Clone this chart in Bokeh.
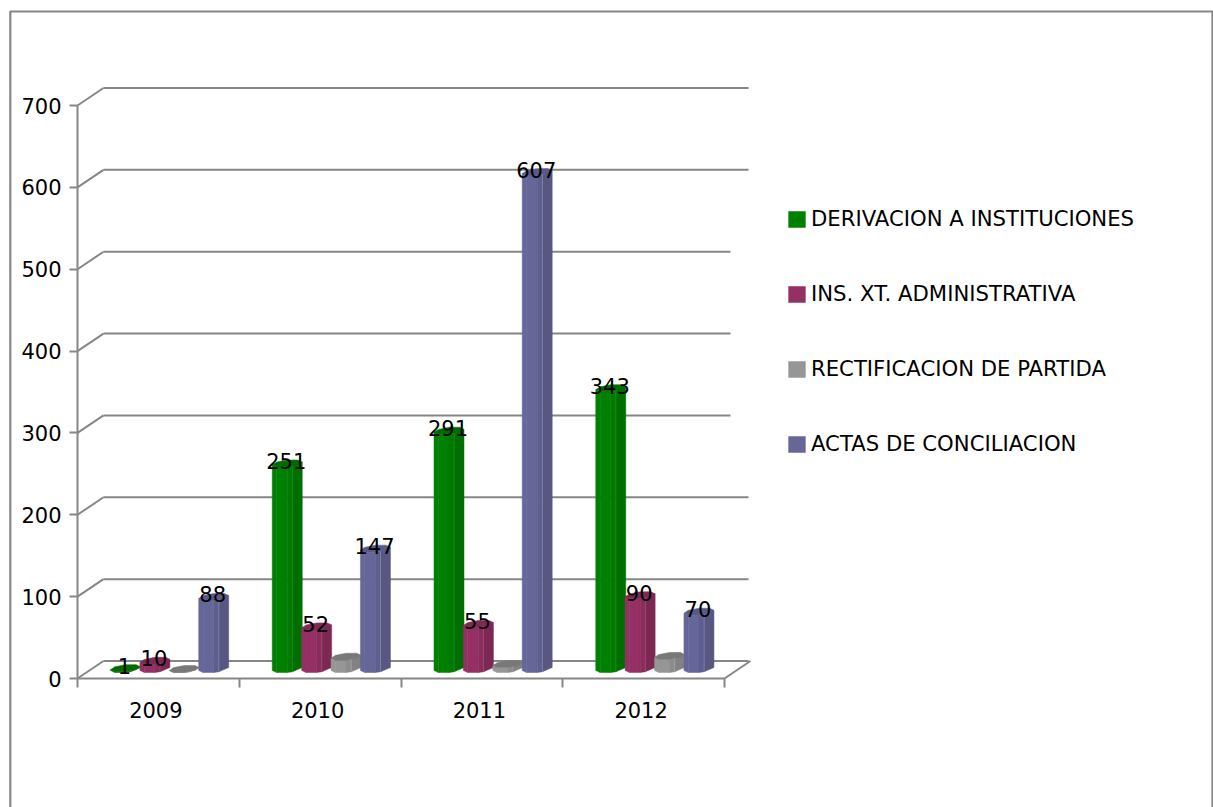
import math
from bokeh.plotting import figure
from bokeh.embed import file_html
from bokeh.resources import INLINE
from bokeh.models import Range1d, FixedTicker, Legend, LegendItem, BoxAnnotation
from bokeh.core.properties import value

# ---- data ----
years = ["2009", "2010", "2011", "2012"]
derivacion = [1, 251, 291, 343]
ins_xt = [10, 52, 55, 90]
rectificacion = [0, 15, 6, 16]
actas = [88, 147, 607, 70]
series_names = ["DERIVACION A INSTITUCIONES", "INS. XT. ADMINISTRATIVA",
                "RECTIFICACION DE PARTIDA", "ACTAS DE CONCILIACION"]
y_ticks = [0, 100, 200, 300, 400, 500, 600, 700]

# ---- style ----
series_values = [derivacion, ins_xt, rectificacion, actas]
show_labels = [True, True, False, True]
facet_colors = [
    ["#008000", "#008000", "#007a00", "#006f00"],
    ["#953064", "#953064", "#8a2c5c", "#7d2853"],
    ["#969696", "#969696", "#8c8c8c", "#828282"],
    ["#666699", "#666699", "#5e5e8f", "#575782"],
]
cap_colors = ["#006c00", "#7f2955", "#787878", "#5a5a88"]
edge_colors = ["#1c8f1c", "#a94f7d", "#a8a8a8", "#8a8ab0"]
AXIS = "#868686"
FONT = "DejaVu Sans"
NUM_SIZE = "21px"

W, H = 1213, 807
LEFT, BOTTOM = 77, 129
X_PX = 161.75
Y_PX = 0.81857
px_x = lambda v: v / X_PX
px_y = lambda v: v / Y_PX

p = figure(width=W, height=H, output_backend="svg", toolbar_location=None,
           x_range=Range1d(px_x(-LEFT), px_x(W - LEFT)),
           y_range=Range1d(px_y(-BOTTOM), px_y(H - BOTTOM)),
           min_border_left=0, min_border_right=0, min_border_top=0, min_border_bottom=0)
p.grid.visible = False
p.outline_line_color = None
p.background_fill_color = "white"
p.border_fill_color = "white"

# outer chart border
p.add_layout(BoxAnnotation(left=9.8, right=1212, top=11, bottom=840,
                           left_units="canvas", right_units="canvas",
                           top_units="canvas", bottom_units="canvas",
                           fill_alpha=0, line_color=AXIS, line_alpha=1, line_width=2.2))

# axes
ya = p.yaxis[0]
ya.fixed_location = 0
ya.ticker = FixedTicker(ticks=y_ticks)
ya.bounds = (0, 700)
ya.major_tick_out = 8
ya.major_tick_in = 0
ya.minor_tick_out = 0
ya.minor_tick_in = 0
ya.major_label_standoff = 8
xa = p.xaxis[0]
xa.fixed_location = 0
n = len(years)
label_pos = [i + 0.5 - px_x(2.5) for i in range(n)]
xa.ticker = FixedTicker(ticks=label_pos, minor_ticks=list(range(n + 1)))
xa.major_label_overrides = dict(zip(label_pos, years))
xa.bounds = (0, n)
xa.major_tick_out = 0
xa.major_tick_in = 0
xa.minor_tick_out = 9
xa.minor_tick_in = 0
xa.major_label_standoff = 14
for a in (xa, ya):
    a.axis_line_color = AXIS
    a.axis_line_width = 2
    a.major_tick_line_color = AXIS
    a.major_tick_line_width = 2
    a.minor_tick_line_color = AXIS
    a.minor_tick_line_width = 2
    a.major_label_text_font = FONT
    a.major_label_text_font_size = NUM_SIZE
    a.major_label_text_color = "black"

# walls: depth projection
dx, dy = px_x(26), px_y(17.5)
short_end = {300, 400, 500}
gx0, gy0, gx1, gy1 = [], [], [], []
for t in y_ticks:
    gx0.append(0); gy0.append(t); gx1.append(dx); gy1.append(t + dy)
    gx0.append(dx); gy0.append(t + dy)
    gx1.append(n + dx - px_x(20 if t in short_end else 2)); gy1.append(t + dy)
gx0.append(n); gy0.append(0); gx1.append(n + dx); gy1.append(dy)
p.segment(gx0, gy0, gx1, gy1, line_color=AXIS, line_width=2)

# bars
R, RY, SHEAR = 15, 3.5, 1.5
BASE = 9.5
FIRST, PITCH = 48, 29.4
angles = [180, 225, 270, 290, 360]
ring_x = [R * math.cos(math.radians(a)) for a in angles]
ring_y = [RY * math.sin(math.radians(a)) + SHEAR * math.cos(math.radians(a)) for a in angles]
cap_angles = list(range(0, 360, 45))
cap_x = [R * math.cos(math.radians(a)) for a in cap_angles]
cap_y = [RY * math.sin(math.radians(a)) + SHEAR * math.cos(math.radians(a)) for a in cap_angles]

legend_items = []
lx, ly, lt = [], [], []
for s, vals in enumerate(series_values):
    centers = [i + px_x(FIRST + PITCH * s) for i in range(n)]
    first = None
    for f in range(4):
        xs, ys = [], []
        for c, v in zip(centers, vals):
            xs.append([c + px_x(ring_x[f]), c + px_x(ring_x[f + 1]),
                       c + px_x(ring_x[f + 1]), c + px_x(ring_x[f])])
            top = v + px_y(BASE)
            bot = px_y(BASE)
            ys.append([top + px_y(ring_y[f]), top + px_y(ring_y[f + 1]),
                       bot + px_y(ring_y[f + 1]), bot + px_y(ring_y[f])])
        r = p.patches(xs, ys, fill_color=facet_colors[s][f], line_color=facet_colors[s][f], line_width=0.5)
        if first is None:
            first = r
    # light edge between the last two facets
    ex = [c + px_x(ring_x[3]) for c in centers]
    p.segment(ex, [v + px_y(BASE + ring_y[3]) for v in vals],
              ex, [px_y(BASE + ring_y[3]) for v in vals],
              line_color=edge_colors[s], line_width=1, line_alpha=0.7)
    p.patches([[c + px_x(o) for o in cap_x] for c in centers],
              [[v + px_y(BASE + o) for o in cap_y] for v in vals],
              fill_color=cap_colors[s], line_color=cap_colors[s], line_width=0.5)
    legend_items.append(LegendItem(label=series_names[s], renderers=[first]))
    if show_labels[s]:
        for c, v in zip(centers, vals):
            lx.append(c - px_x(1)); ly.append(v + px_y(BASE + 2.5)); lt.append(str(v))

p.text(lx, ly, text=lt, text_align="center", text_baseline="middle",
       text_font=value(FONT), text_font_size=NUM_SIZE, text_color="black")

legend = Legend(items=legend_items, location=(786, 351),
                glyph_width=21, glyph_height=20, label_standoff=4, label_height=16,
                spacing=50, padding=0, margin=0,
                background_fill_alpha=0, border_line_color=None,
                label_text_font=FONT, label_text_font_size="21.2px", label_text_color="black")
p.add_layout(legend, "center")

open("out.html", "w").write(file_html(p, INLINE))
